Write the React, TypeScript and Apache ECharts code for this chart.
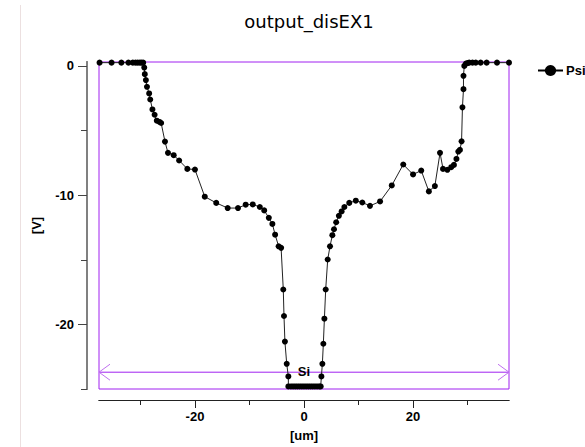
import React, { useEffect, useRef } from "react";
import * as echarts from "echarts";

const TITLE = "output_disEX1";
const SERIES_NAME = "Psi";
const X_NAME = "[um]";
const Y_NAME = "[V]";
const X_RANGE = [-37.6, 37.6];
const Y_RANGE = [-25, 0.3];
const X_MAJOR = [-20, 0, 20];
const X_MINOR = [-30, -10, 10, 30];
const Y_MAJOR = [-20, -10, 0];
const Y_MINOR = [-25, -15, -5];
const REGION_NAME = "Si";
const REGION_LEVEL = -23.7;

const psiX = [
  -37.5, -35.3, -33.5, -32.2, -31.4, -30.9, -30.5, -30.1, -29.8, -29.5,
  -29.3, -29.2, -29.0, -28.8, -28.4, -28.2, -27.8, -27.4, -27.0, -26.5,
  -26.2, -25.5, -24.95, -23.9, -22.9, -21.4, -20.0, -18.2, -16.1, -14.0,
  -12.1, -10.7, -9.4, -8.1, -7.3, -6.45, -5.8, -5.3, -4.65, -4.2,
  -3.8, -3.67, -3.5, -3.17, -2.87, -2.87, -2.4, -2.0, -1.6, -1.2,
  -0.8, -0.4, 0, 0.4, 0.8, 1.2, 1.6, 2.0, 2.4, 2.8,
  3.06, 3.19, 3.37, 3.55, 3.74, 3.98, 4.35, 4.77, 5.2, 5.5,
  5.9, 6.4, 6.9, 7.4, 8.3, 9.5, 10.7, 12.1, 13.95, 16.1,
  18.2, 20.0, 21.5, 22.9, 24.0, 24.95, 25.5, 26.3, 27.0, 27.5,
  27.96, 28.3, 28.6, 28.9, 29.06, 29.25, 29.25, 29.4, 29.7, 30.0,
  30.3, 30.9, 31.5, 32.4, 33.5, 35.4, 37.6,
];
const psiY = [
  0.25, 0.25, 0.25, 0.25, 0.25, 0.25, 0.25, 0.25, 0.25, 0.25,
  -0.13, -0.64, -1.1, -1.62, -2.13, -2.6, -3.37, -3.78, -4.24, -4.34,
  -4.42, -5.86, -6.73, -6.91, -7.32, -7.97, -8.02, -10.12, -10.6, -11.0,
  -11.0, -10.74, -10.72, -10.92, -11.18, -11.76, -12.23, -13.06, -13.96, -14.08,
  -17.3, -19.35, -21.33, -23.05, -24.03, -24.8, -24.8, -24.8, -24.8, -24.8,
  -24.8, -24.8, -24.8, -24.8, -24.8, -24.8, -24.8, -24.8, -24.8, -24.8,
  -24.8, -24.03, -23.05, -21.5, -19.56, -17.3, -14.98, -13.96, -13.1, -12.64,
  -12.1, -11.6, -11.26, -10.92, -10.6, -10.43, -10.57, -10.83, -10.49, -9.25,
  -7.63, -8.4, -8.1, -9.71, -9.3, -6.73, -7.97, -8.04, -7.84, -7.66,
  -7.2, -6.63, -6.5, -5.84, -3.21, -1.8, -0.77, 0.0, 0.18, 0.22,
  0.25, 0.25, 0.25, 0.25, 0.25, 0.25, 0.25,
];

const PURPLE = "#a020f0";
const LABEL_FONT = "Liberation Sans";

export default function App() {
  const ref = useRef<HTMLDivElement>(null);
  useEffect(() => {
    if (!ref.current) return;
    const chart = echarts.init(ref.current, null, { renderer: "svg" });
    const data = psiX.map((x, i) => [x, psiY[i]]);
    const labelStyle = {
      fontFamily: LABEL_FONT,
      fontWeight: "bold" as const,
      fontSize: 13,
      color: "#000",
    };
    const baseX = {
      type: "value" as const,
      min: X_RANGE[0],
      max: X_RANGE[1],
      position: "bottom" as const,
      offset: 11,
      splitLine: { show: false },
      axisLine: { show: true, onZero: false, lineStyle: { color: "#222", width: 1 } },
    };
    const baseY = {
      type: "value" as const,
      min: Y_RANGE[0],
      max: Y_RANGE[1],
      position: "left" as const,
      offset: 12,
      splitLine: { show: false },
      axisLine: { show: true, onZero: false, lineStyle: { color: "#808080", width: 2 } },
    };
    chart.setOption({
      animation: false,
      backgroundColor: "#fff",
      title: {
        text: TITLE,
        left: 304,
        textAlign: "center",
        top: 7,
        textStyle: { fontFamily: "DejaVu Sans", fontWeight: "normal", fontSize: 18, color: "#000" },
      },
      legend: {
        data: [SERIES_NAME],
        left: 532,
        top: 59,
        itemWidth: 25,
        itemHeight: 14,
        itemGap: 4,
        textStyle: { ...labelStyle, padding: [0, 0, 0, -2] },
        lineStyle: { width: 2, color: "#000" },
      },
      grid: {
        left: 99,
        top: 62,
        width: 410,
        height: 328,
        show: true,
        borderColor: PURPLE,
        borderWidth: 1,
        backgroundColor: "transparent",
      },
      xAxis: [
        {
          ...baseX,
          name: X_NAME,
          nameLocation: "middle",
          nameGap: 29,
          nameTextStyle: labelStyle,
          axisTick: { show: true, customValues: X_MAJOR, length: 8, lineStyle: { color: "#222" } },
          axisLabel: { show: true, customValues: X_MAJOR, margin: 10, ...labelStyle },
        },
        {
          ...baseX,
          axisTick: { show: true, customValues: X_MINOR, length: 5, lineStyle: { color: "#222" } },
          axisLabel: { show: false },
        },
      ],
      yAxis: [
        {
          ...baseY,
          name: Y_NAME,
          nameLocation: "middle",
          nameGap: 44,
          nameRotate: 90,
          nameTextStyle: labelStyle,
          axisTick: { show: true, customValues: Y_MAJOR, length: 9, lineStyle: { color: "#444" } },
          axisLabel: { show: true, customValues: Y_MAJOR, margin: 13, ...labelStyle },
        },
        {
          ...baseY,
          axisTick: { show: true, customValues: Y_MINOR, length: 6, lineStyle: { color: "#444" } },
          axisLabel: { show: false },
        },
      ],
      graphic: [
        {
          type: "line",
          shape: { x1: 20.5, y1: 5, x2: 20.5, y2: 447 },
          style: { stroke: "#ece0e0", lineWidth: 1 },
          silent: true,
        },
      ],
      series: [
        {
          type: "custom",
          xAxisIndex: 0,
          yAxisIndex: 0,
          clip: false,
          silent: true,
          z: 3,
          data: [[X_RANGE[0], X_RANGE[1], REGION_LEVEL]],
          renderItem: (params: any, api: any) => {
            const p1 = api.coord([api.value(0), api.value(2)]);
            const p2 = api.coord([api.value(1), api.value(2)]);
            const y = p1[1];
            const cx = (p1[0] + p2[0]) / 2;
            return {
              type: "group",
              children: [
                {
                  type: "line",
                  shape: { x1: p1[0], y1: y, x2: p2[0], y2: y },
                  style: { stroke: PURPLE, lineWidth: 1 },
                },
                {
                  type: "polyline",
                  shape: { points: [[p1[0] + 11, y - 8], [p1[0], y], [p1[0] + 11, y + 8]] },
                  style: { stroke: "#c070f0", lineWidth: 1, fill: "none" },
                },
                {
                  type: "polyline",
                  shape: { points: [[p2[0] - 11, y - 8], [p2[0], y], [p2[0] - 11, y + 8]] },
                  style: { stroke: "#c070f0", lineWidth: 1, fill: "none" },
                },
                {
                  type: "text",
                  x: cx,
                  y: y - 1,
                  style: {
                    text: REGION_NAME,
                    x: 0,
                    y: 0,
                    align: "center",
                    verticalAlign: "middle",
                    font: `bold 13px "${LABEL_FONT}"`,
                    fill: "#000",
                  },
                },
              ],
            };
          },
        },
        {
          name: SERIES_NAME,
          type: "line",
          xAxisIndex: 0,
          yAxisIndex: 0,
          data,
          clip: false,
          z: 4,
          symbol: "circle",
          symbolSize: 6,
          showSymbol: true,
          showAllSymbol: true,
          lineStyle: { color: "#222", width: 1 },
          itemStyle: { color: "#000" },
        },
      ],
    });
    return () => chart.dispose();
  }, []);
  return (
    <div
      ref={ref}
      style={{ position: "fixed", left: 0, top: 0, width: 585, height: 447 }}
    />
  );
}
